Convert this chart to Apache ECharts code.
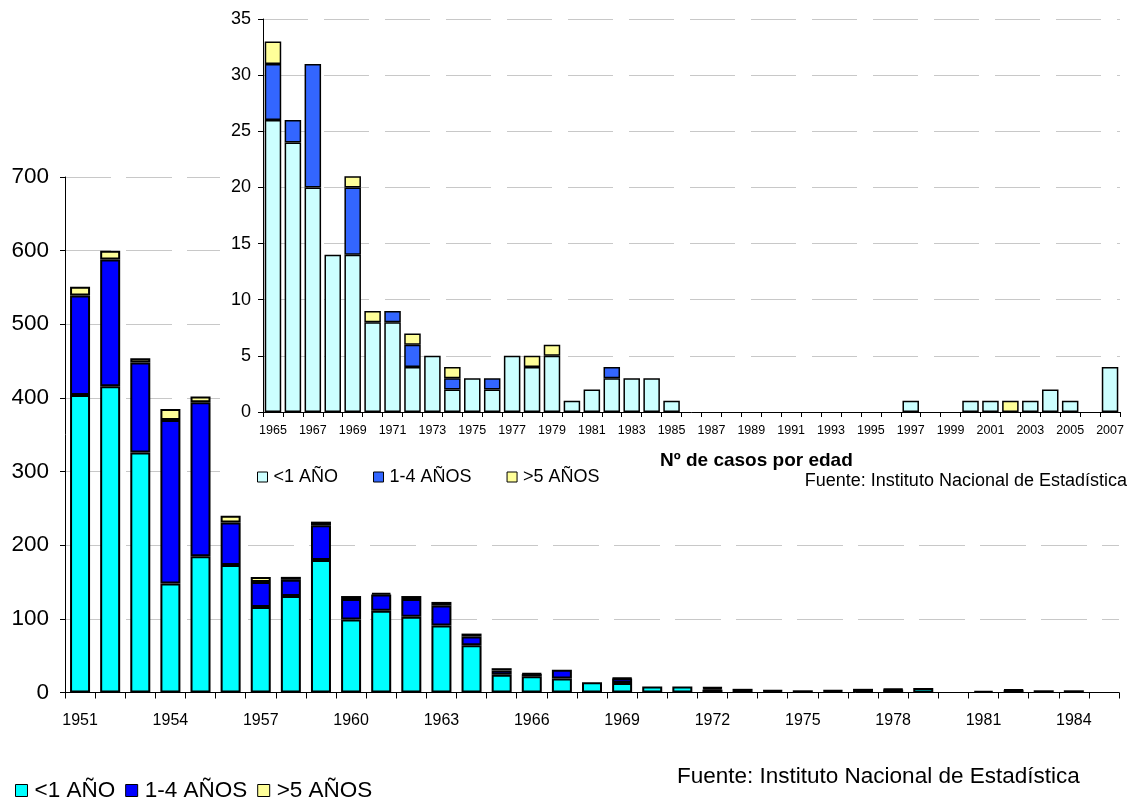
<!DOCTYPE html>
<html>
<head>
<meta charset="utf-8">
<script src="https://cdn.jsdelivr.net/npm/echarts@6/dist/echarts.min.js"></script>
<style>
html,body{margin:0;padding:0;background:#fff;}
#c{width:1131px;height:798px;}
</style>
</head>
<body>
<div id="c"></div>
<script>
// ---------- Main chart data (1951-1985) ----------
var mainYears = ['1951','1952','1953','1954','1955','1956','1957','1958','1959','1960','1961','1962','1963','1964','1965','1966','1967','1968','1969','1970','1971','1972','1973','1974','1975','1976','1977','1978','1979','1980','1981','1982','1983','1984','1985'];
var mainLess1 = [404,416,326,148,185,173,116,131,180,99,111,103,91,64,24,22,19,14,13,8,8,4,5,2,3,2,5,4,6,0,2,3,3,3,0];
var main1to4  = [135,172,122,222,209,58,34,22,47,28,22,24,27,12,6,3,12,0,6,0,0,2,0,1,0,1,0,0,0,0,0,1,0,0,0];
var mainOver5 = [12,12,6,15,8,9,7,4,5,4,2,4,5,4,3,1,0,0,1,0,0,1,0,0,0,0,0,1,0,0,0,0,0,0,0];
var mainYTicks = [0,100,200,300,400,500,600,700];

// ---------- Inset chart data (1965-2007) ----------
var insetYears = ['1965','1966','1967','1968','1969','1970','1971','1972','1973','1974','1975','1976','1977','1978','1979','1980','1981','1982','1983','1984','1985','1986','1987','1988','1989','1990','1991','1992','1993','1994','1995','1996','1997','1998','1999','2000','2001','2002','2003','2004','2005','2006','2007'];
var insetLess1 = [26,24,20,14,14,8,8,4,5,2,3,2,5,4,5,1,2,3,3,3,1,0,0,0,0,0,0,0,0,0,0,0,1,0,0,1,1,0,1,2,1,0,4];
var inset1to4  = [5,2,11,0,6,0,1,2,0,1,0,1,0,0,0,0,0,1,0,0,0,0,0,0,0,0,0,0,0,0,0,0,0,0,0,0,0,0,0,0,0,0,0];
var insetOver5 = [2,0,0,0,1,1,0,1,0,1,0,0,0,1,1,0,0,0,0,0,0,0,0,0,0,0,0,0,0,0,0,0,0,0,0,0,0,1,0,0,0,0,0];
var insetYTicks = [0,5,10,15,20,25,30,35];

var seriesNames = ['<1 AÑO','1-4 AÑOS','>5 AÑOS'];
var mainColors = ['#00FFFF','#0000FF','#FFFF99'];
var insetColors = ['#CCFFFF','#3366FF','#FFFF99'];
var sourceText = 'Fuente: Instituto Nacional de Estadística';
var insetTitle = 'Nº de casos por edad';

var FONT = '"Liberation Sans", Arial, sans-serif';
function nz(a){ return a.map(function(v){ return v === 0 ? '-' : v; }); }

var chart = echarts.init(document.getElementById('c'), null, {renderer:'canvas'});

var mainData = [mainLess1, main1to4, mainOver5];
var insetData = [insetLess1, inset1to4, insetOver5];

var series = [];
for (var i = 0; i < 3; i++) {
  series.push({
    name: seriesNames[i], type: 'bar', stack: 'main', xAxisIndex: 0, yAxisIndex: 0,
    data: nz(mainData[i]), barWidth: 20, z: 2,
    itemStyle: {color: mainColors[i], borderColor: '#000', borderWidth: 2},
    emphasis: {disabled: true}
  });
}
for (var j = 0; j < 3; j++) {
  series.push({
    name: seriesNames[j], type: 'bar', stack: 'inset', xAxisIndex: 1, yAxisIndex: 1,
    data: nz(insetData[j]), barWidth: 16.5, z: 6,
    itemStyle: {color: insetColors[j], borderColor: '#000', borderWidth: 1.5},
    emphasis: {disabled: true}
  });
}

var option = {
  animation: false,
  backgroundColor: '#ffffff',
  textStyle: {fontFamily: FONT, color: '#000'},
  graphic: [{
    type: 'rect', z: 1, silent: true,
    shape: {x: 220, y: 0, width: 911, height: 506},
    style: {fill: '#ffffff'}
  }],
  title: [
    {text: insetTitle, left: 660, top: 451, padding: 0, z: 8,
     textStyle: {fontFamily: FONT, fontSize: 19, fontWeight: 'bold', color: '#000', lineHeight: 20}},
    {text: sourceText, right: 4, top: 472, padding: 0, z: 8,
     textStyle: {fontFamily: FONT, fontSize: 18, fontWeight: 'normal', color: '#000', lineHeight: 19}},
    {text: sourceText, left: 677, top: 765, padding: 0,
     textStyle: {fontFamily: FONT, fontSize: 22.5, fontWeight: 'normal', color: '#000', lineHeight: 24}}
  ],
  legend: [
    {
      left: 15, top: 779, padding: 0, itemGap: 10, itemWidth: 12, itemHeight: 12, icon: 'rect',
      selectedMode: false,
      textStyle: {fontFamily: FONT, fontSize: 22.5, color: '#000', padding: [0,0,0,2]},
      itemStyle: {borderColor: '#000', borderWidth: 1},
      data: seriesNames.map(function(n, k){ return {name: n, itemStyle: {color: mainColors[k], borderColor: '#000', borderWidth: 1}}; })
    },
    {
      left: 257, top: 468, padding: 0, itemGap: 35, itemWidth: 10, itemHeight: 10, icon: 'rect',
      selectedMode: false, z: 8,
      textStyle: {fontFamily: FONT, fontSize: 18, color: '#000', padding: [0,0,0,1]},
      itemStyle: {borderColor: '#000', borderWidth: 1},
      data: seriesNames.map(function(n, k){ return {name: n, itemStyle: {color: insetColors[k], borderColor: '#000', borderWidth: 1}}; })
    }
  ],
  grid: [
    {left: 65, right: 12, top: 177, bottom: 105.5, containLabel: false},
    {left: 263, right: 11, top: 19, bottom: 386, containLabel: false}
  ],
  xAxis: [
    {
      gridIndex: 0, type: 'category', data: mainYears, boundaryGap: true, z: 0,
      axisLine: {show: true, lineStyle: {color: '#000', width: 1}},
      axisTick: {show: true, interval: 0, length: 6, lineStyle: {color: '#000'}},
      axisLabel: {interval: 2, margin: 20, fontFamily: FONT, fontSize: 16, color: '#000'},
      splitLine: {show: false}
    },
    {
      gridIndex: 1, type: 'category', data: insetYears, boundaryGap: true, z: 5,
      axisLine: {show: true, lineStyle: {color: '#000', width: 1}},
      axisTick: {show: true, interval: 0, length: 5, lineStyle: {color: '#000'}},
      axisLabel: {interval: 1, margin: 12, fontFamily: FONT, fontSize: 12.5, color: '#000'},
      splitLine: {show: false}
    }
  ],
  yAxis: [
    {
      gridIndex: 0, type: 'value', min: mainYTicks[0], max: mainYTicks[mainYTicks.length-1], interval: 100, z: 0,
      axisLine: {show: true, lineStyle: {color: '#000', width: 1}},
      axisTick: {show: true, length: 5, lineStyle: {color: '#000'}},
      axisLabel: {margin: 16, fontFamily: FONT, fontSize: 22.5, color: '#000'},
      splitLine: {show: true, lineStyle: {color: '#c8c8c8', width: 1, type: [46, 15]}}
    },
    {
      gridIndex: 1, type: 'value', min: insetYTicks[0], max: insetYTicks[insetYTicks.length-1], interval: 5, z: 5,
      axisLine: {show: true, lineStyle: {color: '#000', width: 1}},
      axisTick: {show: true, length: 5, lineStyle: {color: '#000'}},
      axisLabel: {margin: 12, fontFamily: FONT, fontSize: 18, color: '#000'},
      splitLine: {show: true, lineStyle: {color: '#c8c8c8', width: 1, type: [45, 16]}}
    }
  ],
  series: series
};
chart.setOption(option);
</script>
</body>
</html>
